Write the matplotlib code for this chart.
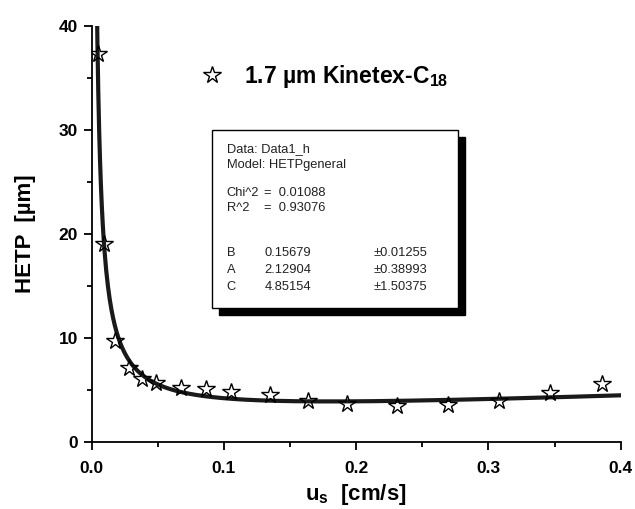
"""
Van Deemter / HETP vs u_s, columna Kinetex-C18 1.7 um
"""

import numpy as np
import matplotlib.pyplot as plt
from matplotlib.patches import Rectangle

plt.rcParams['font.family'] = 'Liberation Sans'
plt.rcParams['mathtext.fontset'] = 'custom'
plt.rcParams['mathtext.rm'] = 'Liberation Sans:bold'
plt.rcParams['mathtext.it'] = 'Liberation Sans:bold'
plt.rcParams['mathtext.bf'] = 'Liberation Sans:bold'

us = [0.0045, 0.0095, 0.0177, 0.0283, 0.0379, 0.0485, 0.0674, 0.0864, 0.1055,
      0.1345, 0.1636, 0.1927, 0.231, 0.2697, 0.308, 0.3467, 0.3856]
hetp = [37.3, 19.0, 9.7, 7.06, 6.0, 5.6, 5.13, 5.04, 4.8,
        4.49, 3.9, 3.62, 3.43, 3.53, 3.94, 4.65, 5.55]

# Parametros del ajuste (HETPgeneral: B/u + A + C*u)
B = 0.15679
A = 2.12904
C = 4.85154

box_lines = [
    ("Data: Data1_h", "", ""),
    ("Model: HETPgeneral", "", ""),
    ("Chi^2", "=  0.01088", ""),
    ("R^2", "=  0.93076", ""),
    ("B", "0.15679", "±0.01255"),
    ("A", "2.12904", "±0.38993"),
    ("C", "4.85154", "±1.50375"),
]

u_fit = np.linspace(0.003, 0.4, 600)
hetp_fit = B / u_fit + A + C * u_fit

fig = plt.figure(figsize=(6.35, 5.09), dpi=100)
ax = fig.add_axes([0.1444, 0.1322, 0.8331, 0.8173])

ax.plot(u_fit, hetp_fit, color='#1a1a1a', linewidth=3, zorder=2)
ax.plot(us, hetp, linestyle='none', marker='*', markersize=13,
        markerfacecolor='none', markeredgecolor='black', markeredgewidth=1,
        zorder=3, label='1.7 µm Kinetex-$\\mathrm{C_{18}}$')

ax.set_xlim(0, 0.4)
ax.set_ylim(0, 40)
ax.set_xticks([0.0, 0.1, 0.2, 0.3, 0.4])
ax.set_xticks([0.05, 0.15, 0.25, 0.35], minor=True)
ax.set_yticks([0, 10, 20, 30, 40])
ax.set_yticks([5, 15, 25, 35], minor=True)
ax.set_xticklabels(['0.0', '0.1', '0.2', '0.3', '0.4'])

for s in ['top', 'right']:
    ax.spines[s].set_visible(False)
for s in ['left', 'bottom']:
    ax.spines[s].set_linewidth(1.3)

ax.tick_params(which='major', direction='out', length=6, width=1.3, labelsize=12.5)
ax.tick_params(which='minor', direction='out', length=3.5, width=1.3)
ax.tick_params(axis='x', which='major', pad=8)
ax.tick_params(axis='y', which='major', pad=4)
for lab in ax.get_xticklabels() + ax.get_yticklabels():
    lab.set_fontweight('bold')

ax.set_xlabel('$\\mathrm{u_s}$  [cm/s]', fontsize=16, fontweight='bold', labelpad=4)
ax.set_ylabel('HETP  [µm]', fontsize=16, fontweight='bold', labelpad=16)

ax.legend(loc='center left', bbox_to_anchor=(0.205, 0.8767), frameon=False,
          prop={'weight': 'bold', 'size': 16.5}, handlelength=1.0,
          handletextpad=0.9, borderpad=0, borderaxespad=0)

# Cuadro de resultados del ajuste con sombra
bx, by, bw, bh = 0.228, 0.3207, 0.464, 0.4283
ax.add_patch(Rectangle((bx + 0.0132, by - 0.0168), bw, bh, transform=ax.transAxes,
                       facecolor='black', edgecolor='black', zorder=4, clip_on=False))
ax.add_patch(Rectangle((bx, by), bw, bh, transform=ax.transAxes,
                       facecolor='white', edgecolor='black', linewidth=1, zorder=5, clip_on=False))

row_y = [0.703, 0.665, 0.5986, 0.561, 0.4529, 0.4127, 0.3726]
col_x = [0.2552, 0.3266, 0.5336]
for yy, row in zip(row_y, box_lines):
    for xx, txt in zip(col_x, row):
        if txt:
            ax.text(xx, yy, txt, transform=ax.transAxes, fontsize=9.3, color='#222222',
                    va='center', ha='left', zorder=6)

fig.savefig('out.png', dpi=100)
